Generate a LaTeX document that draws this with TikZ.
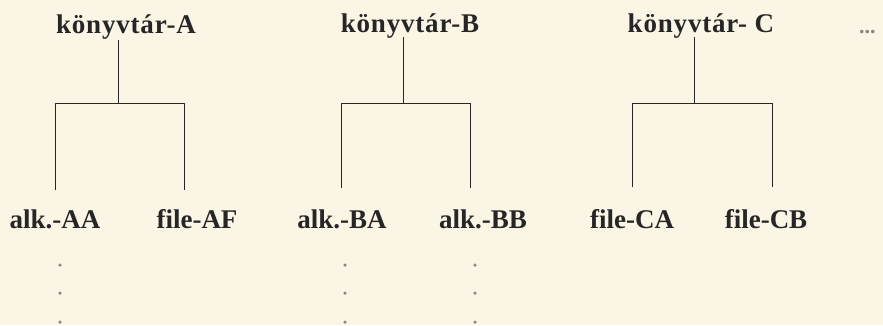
\documentclass[tikz,border=0pt]{standalone}
\usepackage{fontspec}
\setmainfont{Liberation Serif}
\definecolor{bg}{HTML}{FBF5E5}
\definecolor{ink}{HTML}{262626}
\definecolor{dotc}{HTML}{8A8680}
\begin{document}
\begin{tikzpicture}[x=1pt,y=-1pt,
  lbl/.style={font=\fontsize{27}{29}\selectfont\bfseries, text=ink, inner sep=0pt, anchor=base},
  ttl/.style={lbl, font=\fontsize{27}{29}\selectfont\bfseries\addfontfeature{LetterSpace=3}},
  conn/.style={draw=ink, line width=1pt},
  vdot/.style={circle, fill=dotc, inner sep=0pt, minimum size=3.5pt}]
\fill[bg] (0,0) rectangle (883,325);
\useasboundingbox (0,0) rectangle (883,325);
% titles
\node[ttl] (tA) at (126,33) {könyvtár-A};
\node[ttl] (tB) at (410,32) {könyvtár-B};
\node[ttl] (tC) at (701,32) {könyvtár- C};
\node[font=\fontsize{22}{22}\selectfont\bfseries, text=dotc, inner sep=0pt, anchor=base west] (more) at (859,33) {...};
% leaves
\node[lbl] (aa) at (55,228) {alk.-AA};
\node[lbl] (af) at (197,228) {file-AF};
\node[lbl] (ba) at (342,228) {alk.-BA};
\node[lbl] (bb) at (483,228) {alk.-BB};
\node[lbl] (ca) at (632,228) {file-CA};
\node[lbl] (cb) at (766,228) {file-CB};
% junction coordinates
\coordinate (jA) at (118,103); \coordinate (lA) at (55,103); \coordinate (rA) at (184,103);
\coordinate (eA1) at (55,190); \coordinate (eA2) at (184,190);
\coordinate (jB) at (403,103); \coordinate (lB) at (341,103); \coordinate (rB) at (470,103);
\coordinate (eB1) at (341,188); \coordinate (eB2) at (470,188);
\coordinate (jC) at (694,103); \coordinate (lC) at (632,103); \coordinate (rC) at (772,103);
\coordinate (eC1) at (632,187); \coordinate (eC2) at (772,187);
% connectors
\draw[conn] (118,40) -- (jA);
\draw[conn] (eA1) -- (lA) -- (rA) -- (eA2);
\draw[conn] (403,37) -- (jB);
\draw[conn] (eB1) -- (lB) -- (rB) -- (eB2);
\draw[conn] (694,37) -- (jC);
\draw[conn] (eC1) -- (lC) -- (rC) -- (eC2);
% continuation dots
\foreach \y [count=\i] in {265,293,322} {
  \node[vdot] (dA\i) at (60,\y) {};
  \node[vdot] (dB\i) at (345,\y) {};
  \node[vdot] (dC\i) at (475,\y) {};
}
\end{tikzpicture}
\end{document}
